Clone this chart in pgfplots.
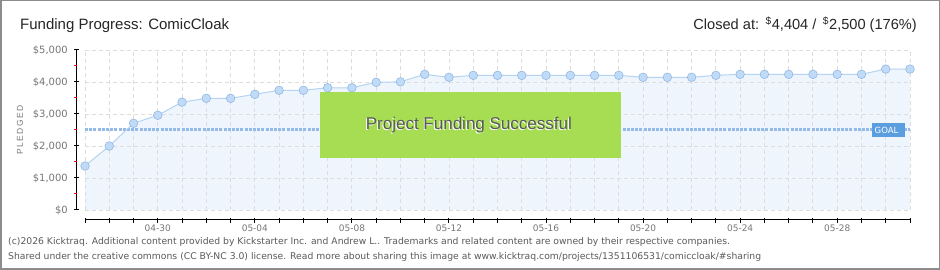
\documentclass[border=0pt]{standalone}
\usepackage{pgfplots}
\usepackage{pgfplotstable}
\pgfplotsset{compat=1.18}
\usepackage{fontspec}
\setmainfont{Liberation Sans}
\newfontfamily\tickfont{DejaVu Sans}
\definecolor{framec}{HTML}{8C8C8C}
\definecolor{areafill}{HTML}{EEF5FD}
\definecolor{linec}{HTML}{B5D3F3}
\definecolor{markfill}{HTML}{BFDBF7}
\definecolor{markdraw}{HTML}{94B8E2}
\definecolor{goalc}{HTML}{93BAE8}
\definecolor{goalbox}{HTML}{5B9EE0}
\definecolor{gridc}{HTML}{DDDDDD}
\definecolor{okgreen}{HTML}{A6DD52}
\definecolor{ticktext}{HTML}{777777}
\definecolor{footc}{HTML}{5A5A5A}

\pgfplotstableread{
day value
0 1375
1 2000
2 2710
3 2960
4 3370
5 3490
6 3490
7 3615
8 3740
9 3740
10 3820
11 3820
12 3990
13 4005
14 4240
15 4147
16 4208
17 4208
18 4208
19 4208
20 4208
21 4208
22 4208
23 4147
24 4147
25 4147
26 4208
27 4240
28 4240
29 4240
30 4240
31 4240
32 4240
33 4404
34 4404
}\pledged

\begin{document}
\begin{tikzpicture}[x=1pt,y=1pt]
\fill[white] (0,0) rectangle (940,270);
\draw[framec, line width=1.5pt] (0.75,0.75) rectangle (939.25,269.25);

\node[anchor=base west, inner sep=0pt, font=\fontsize{15}{18}\selectfont, text=black!85] at (20,240) {Funding Progress: ComicCloak};
\node[anchor=base east, inner sep=0pt, font=\fontsize{14.6}{18}\selectfont, text=black!85] at (917,240) {Closed at:\ \,\textsuperscript{\$}4,404 /\ \,\textsuperscript{\$}2,500 (176\%)};

\node[rotate=90, font=\fontsize{8.5}{10}\selectfont, text=ticktext] at (20,140) {P\,L\,E\,D\,G\,E\,D};

\begin{axis}[
  at={(85pt,60pt)}, anchor=south west,
  scale only axis, width=825pt, height=160pt,
  xmin=0, xmax=34, ymin=0, ymax=5000,
  clip=false,
  axis line style={draw=none},
  major tick length=0pt, minor tick length=0pt,
  xtick={3,7,...,31},
  xticklabels={04-30,05-04,05-08,05-12,05-16,05-20,05-24,05-28},
  ytick={0,1000,...,5000},
  yticklabels={{\$0},{\$1,000},{\$2,000},{\$3,000},{\$4,000},{\$5,000}},
  xticklabel style={anchor=center, yshift=-18.3pt, inner sep=0pt, font=\tickfont\fontsize{9}{10}\selectfont, text=ticktext},
  yticklabel style={anchor=east, xshift=-17pt, inner sep=0pt, font=\tickfont\fontsize{10}{11}\selectfont, text=ticktext},
]
\addplot[draw=none, fill=areafill] table[x=day, y=value] {\pledged} \closedcycle;
\pgfplotsinvokeforeach{0,...,34}{
  \draw[gridc, line width=0.9pt, dash pattern=on 4pt off 3pt] (axis cs:#1,0) -- (axis cs:#1,5000);
}
\pgfplotsinvokeforeach{0,1000,2000,3000,4000,5000}{
  \draw[gridc, line width=0.9pt, dash pattern=on 4pt off 3pt] (axis cs:0,#1) -- (axis cs:34,#1);
}
\addplot[goalc, line width=3pt, dash pattern=on 3pt off 1.2pt, no marks] coordinates {(0,2500) (34,2500)};
\addplot[linec, line width=1pt, mark=*, mark size=4.3pt, mark options={fill=markfill, draw=markdraw, line width=0.6pt, solid}] table[x=day, y=value] {\pledged};
\fill[okgreen] (axis cs:9.69,1625) rectangle (axis cs:22.1,3687);
\node[font=\fontsize{17}{20}\selectfont, text=white] at (axis cs:15.78,2630) {Project Funding Successful};
\node[font=\fontsize{17}{20}\selectfont, text=black!65] at (axis cs:15.82,2656) {Project Funding Successful};
\end{axis}

% goal tag
\fill[goalbox] (872,132.7) rectangle (904.5,146.7);
\node[font=\tickfont\fontsize{8.5}{10}\selectfont, text=white, inner sep=0pt] at (886.5,139.8) {GOAL};

% axis lines and ticks
\draw[black, line width=1pt] (85,50) -- (910.5,50);
\foreach \i in {0,...,34} {
  \draw[black, line width=1pt] ({85+24.265*\i},47) -- ({85+24.265*\i},52.3);
}
\draw[black, line width=1pt] (76.5,60) -- (76.5,220);
\foreach \v in {0,1,2,3,4,5} {
  \draw[black, line width=1pt] (74,{60+32*\v}) -- (79,{60+32*\v});
}
\foreach \v in {0.5,1.5,2.5,3.5,4.5} {
  \draw[red, line width=1pt] (73.8,{60+32*\v}) -- (76.5,{60+32*\v});
}

% footer
\node[anchor=base west, inner sep=0pt, font=\tickfont\fontsize{9.25}{11}\selectfont, text=footc] at (8,25) {(c)2026 Kicktraq. Additional content provided by Kickstarter Inc. and Andrew L.. Trademarks and related content are owned by their respective companies.};
\node[anchor=base west, inner sep=0pt, font=\tickfont\fontsize{9.25}{11}\selectfont, text=footc] at (8,10) {Shared under the creative commons (CC BY-NC 3.0) license. Read more about sharing this image at www.kicktraq.com/projects/1351106531/comiccloak/\#sharing};
\end{tikzpicture}
\end{document}
